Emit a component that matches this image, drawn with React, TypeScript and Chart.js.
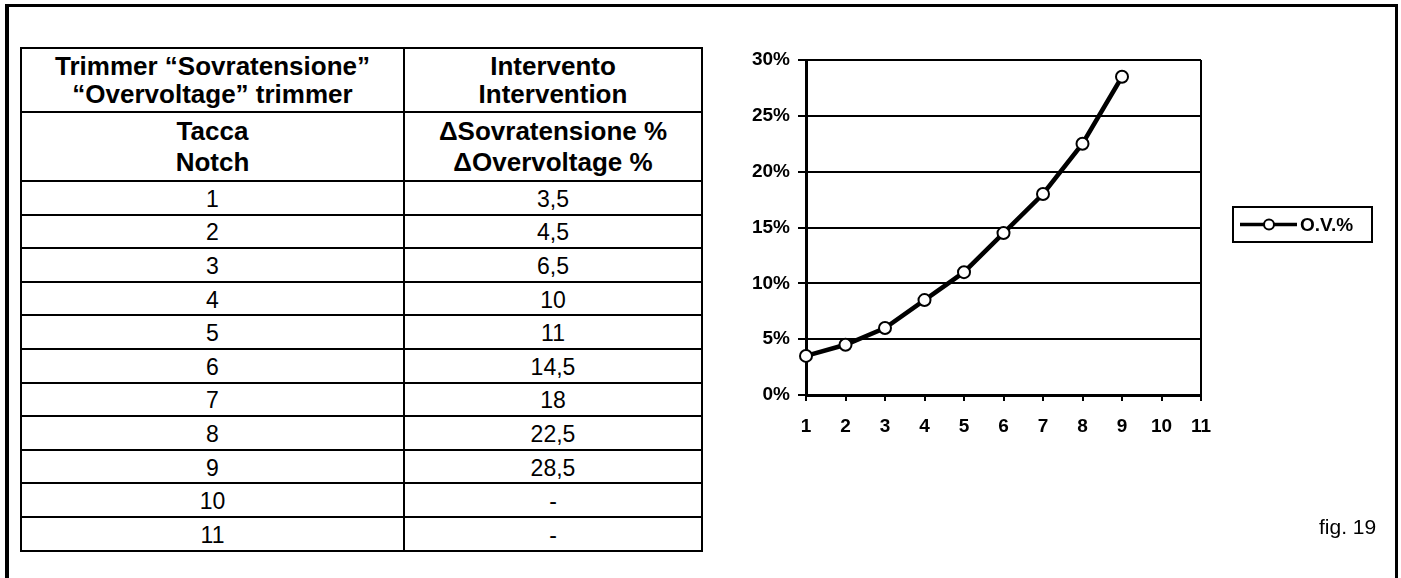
import React, { useEffect, useRef } from "react";
import { Chart, registerables } from "chart.js";

Chart.register(...registerables);

const FONT = "'Liberation Sans', Arial, Helvetica, sans-serif";

const notchLabels = ["1", "2", "3", "4", "5", "6", "7", "8", "9", "10", "11"];
const tableValues = ["3,5", "4,5", "6,5", "10", "11", "14,5", "18", "22,5", "28,5", "-", "-"];
const chartValues: (number | null)[] = [3.5, 4.5, 6, 8.5, 11, 14.5, 18, 22.5, 28.5, null, null];
const seriesName = "O.V.%";
const yMin = 0;
const yMax = 30;
const yStep = 5;

const headerTop = ["Trimmer \u201CSovratensione\u201D", "\u201COvervoltage\u201D trimmer"];
const headerTop2 = ["Intervento", "Intervention"];
const headerSub = ["Tacca", "Notch"];
const headerSub2 = ["\u0394Sovratensione %", "\u0394Overvoltage %"];

const legendBoxPlugin = {
  id: "legendBox",
  beforeDatasetsDraw(chart: any) {
    const { ctx, chartArea } = chart;
    ctx.save();
    ctx.strokeStyle = "#000";
    ctx.lineWidth = 2;
    ctx.beginPath();
    ctx.moveTo(chartArea.right, chartArea.top);
    ctx.lineTo(chartArea.right, chartArea.bottom + 6);
    ctx.stroke();
    ctx.restore();
  },
  afterDraw(chart: any) {
    const { ctx } = chart;
    const ds = chart.data.datasets[0];
    const bx = 513, by = 207, bw = 139, bh = 35;
    const cy = by + bh / 2;
    ctx.save();
    ctx.strokeStyle = "#000";
    ctx.lineWidth = 2;
    ctx.strokeRect(bx, by, bw, bh);
    ctx.lineWidth = 3.5;
    ctx.beginPath();
    ctx.moveTo(bx + 7, cy);
    ctx.lineTo(bx + 64, cy);
    ctx.stroke();
    ctx.beginPath();
    ctx.arc(bx + 36, cy, 5, 0, Math.PI * 2);
    ctx.fillStyle = "#fff";
    ctx.fill();
    ctx.lineWidth = 2;
    ctx.stroke();
    ctx.fillStyle = "#000";
    ctx.font = `bold 19px ${FONT}`;
    ctx.textBaseline = "middle";
    ctx.textAlign = "left";
    ctx.fillText(ds.label, bx + 67, cy + 1);
    ctx.restore();
  },
};

function ChartCanvas() {
  const ref = useRef<HTMLCanvasElement | null>(null);
  useEffect(() => {
    if (!ref.current) return;
    const chart = new Chart(ref.current, {
      type: "line",
      data: {
        labels: notchLabels,
        datasets: [
          {
            label: seriesName,
            data: chartValues,
            borderColor: "#000",
            borderWidth: 4.5,
            pointRadius: 6,
            pointBorderWidth: 2,
            pointBackgroundColor: "#fff",
            pointBorderColor: "#000",
            tension: 0,
            clip: false as any,
            spanGaps: false,
          },
        ],
      },
      options: {
        animation: false,
        responsive: false,
        maintainAspectRatio: false,
        devicePixelRatio: 1,
        layout: { padding: { left: 0, top: 60, right: 200, bottom: 143 } },
        plugins: { legend: { display: false }, tooltip: { enabled: false } },
        scales: {
          x: {
            type: "category",
            offset: false,
            afterFit: (s: any) => {
              s.height = 40;
            },
            grid: {
              drawOnChartArea: false,
              drawTicks: true,
              tickLength: 6,
              color: "#000",
              lineWidth: 2,
            },
            border: { display: true, color: "#000", width: 3 },
            ticks: {
              color: "#000",
              font: { family: FONT, size: 19, weight: "bold" },
              padding: 14,
              autoSkip: false,
              maxRotation: 0,
            },
          },
          y: {
            min: yMin,
            max: yMax,
            afterFit: (s: any) => {
              s.width = 86;
            },
            grid: {
              color: "#000",
              lineWidth: 2,
              drawTicks: true,
              tickLength: 8,
            },
            border: { display: true, color: "#000", width: 3 },
            ticks: {
              stepSize: yStep,
              color: "#000",
              font: { family: FONT, size: 19, weight: "bold" },
              padding: 8,
              callback: (v: any) => `${v}%`,
            },
          },
        },
      },
      plugins: [legendBoxPlugin],
    });
    return () => chart.destroy();
  }, []);
  return (
    <canvas
      ref={ref}
      width={681}
      height={578}
      style={{ position: "absolute", left: 720, top: 0, width: 681, height: 578 }}
    />
  );
}

export default function App() {
  const cell: React.CSSProperties = {
    border: "2px solid #000",
    padding: 0,
    textAlign: "center",
    verticalAlign: "middle",
  };
  const headCell: React.CSSProperties = {
    ...cell,
    fontWeight: "bold",
    fontSize: 26,
  };
  return (
    <div
      style={{
        position: "fixed",
        left: 0,
        top: 0,
        width: 1401,
        height: 578,
        overflow: "hidden",
        background: "#fff",
        fontFamily: FONT,
        color: "#000",
      }}
    >
      <div
        style={{
          position: "absolute",
          left: 5,
          top: 4,
          width: 1393,
          height: 700,
          borderTop: "3px solid #000",
          borderLeft: "4px solid #000",
          borderRight: "3px solid #000",
          boxSizing: "border-box",
        }}
      />
      <table
        style={{
          position: "absolute",
          left: 20,
          top: 47,
          width: 681,
          borderCollapse: "collapse",
          tableLayout: "fixed",
        }}
      >
        <colgroup>
          <col style={{ width: 383 }} />
          <col style={{ width: 298 }} />
        </colgroup>
        <tbody>
          <tr style={{ height: 64 }}>
            <td style={{ ...headCell, lineHeight: "28px" }}>
              {headerTop.map((t) => (
                <div key={t}>{t}</div>
              ))}
            </td>
            <td style={{ ...headCell, lineHeight: "28px" }}>
              {headerTop2.map((t) => (
                <div key={t}>{t}</div>
              ))}
            </td>
          </tr>
          <tr style={{ height: 69 }}>
            <td style={{ ...headCell, lineHeight: "31px" }}>
              {headerSub.map((t) => (
                <div key={t}>{t}</div>
              ))}
            </td>
            <td style={{ ...headCell, lineHeight: "31px" }}>
              {headerSub2.map((t) => (
                <div key={t}>{t}</div>
              ))}
            </td>
          </tr>
          {notchLabels.map((n, i) => (
            <tr key={n} style={{ height: 33.6 }}>
              <td style={{ ...cell, fontSize: 23, lineHeight: "28px", paddingTop: 2 }}>{n}</td>
              <td style={{ ...cell, fontSize: 23, lineHeight: "28px", paddingTop: 2 }}>{tableValues[i]}</td>
            </tr>
          ))}
        </tbody>
      </table>
      <ChartCanvas />
      <div
        style={{
          position: "absolute",
          left: 1319,
          top: 513,
          fontSize: 21,
          lineHeight: "28px",
        }}
      >
        fig. 19
      </div>
    </div>
  );
}
